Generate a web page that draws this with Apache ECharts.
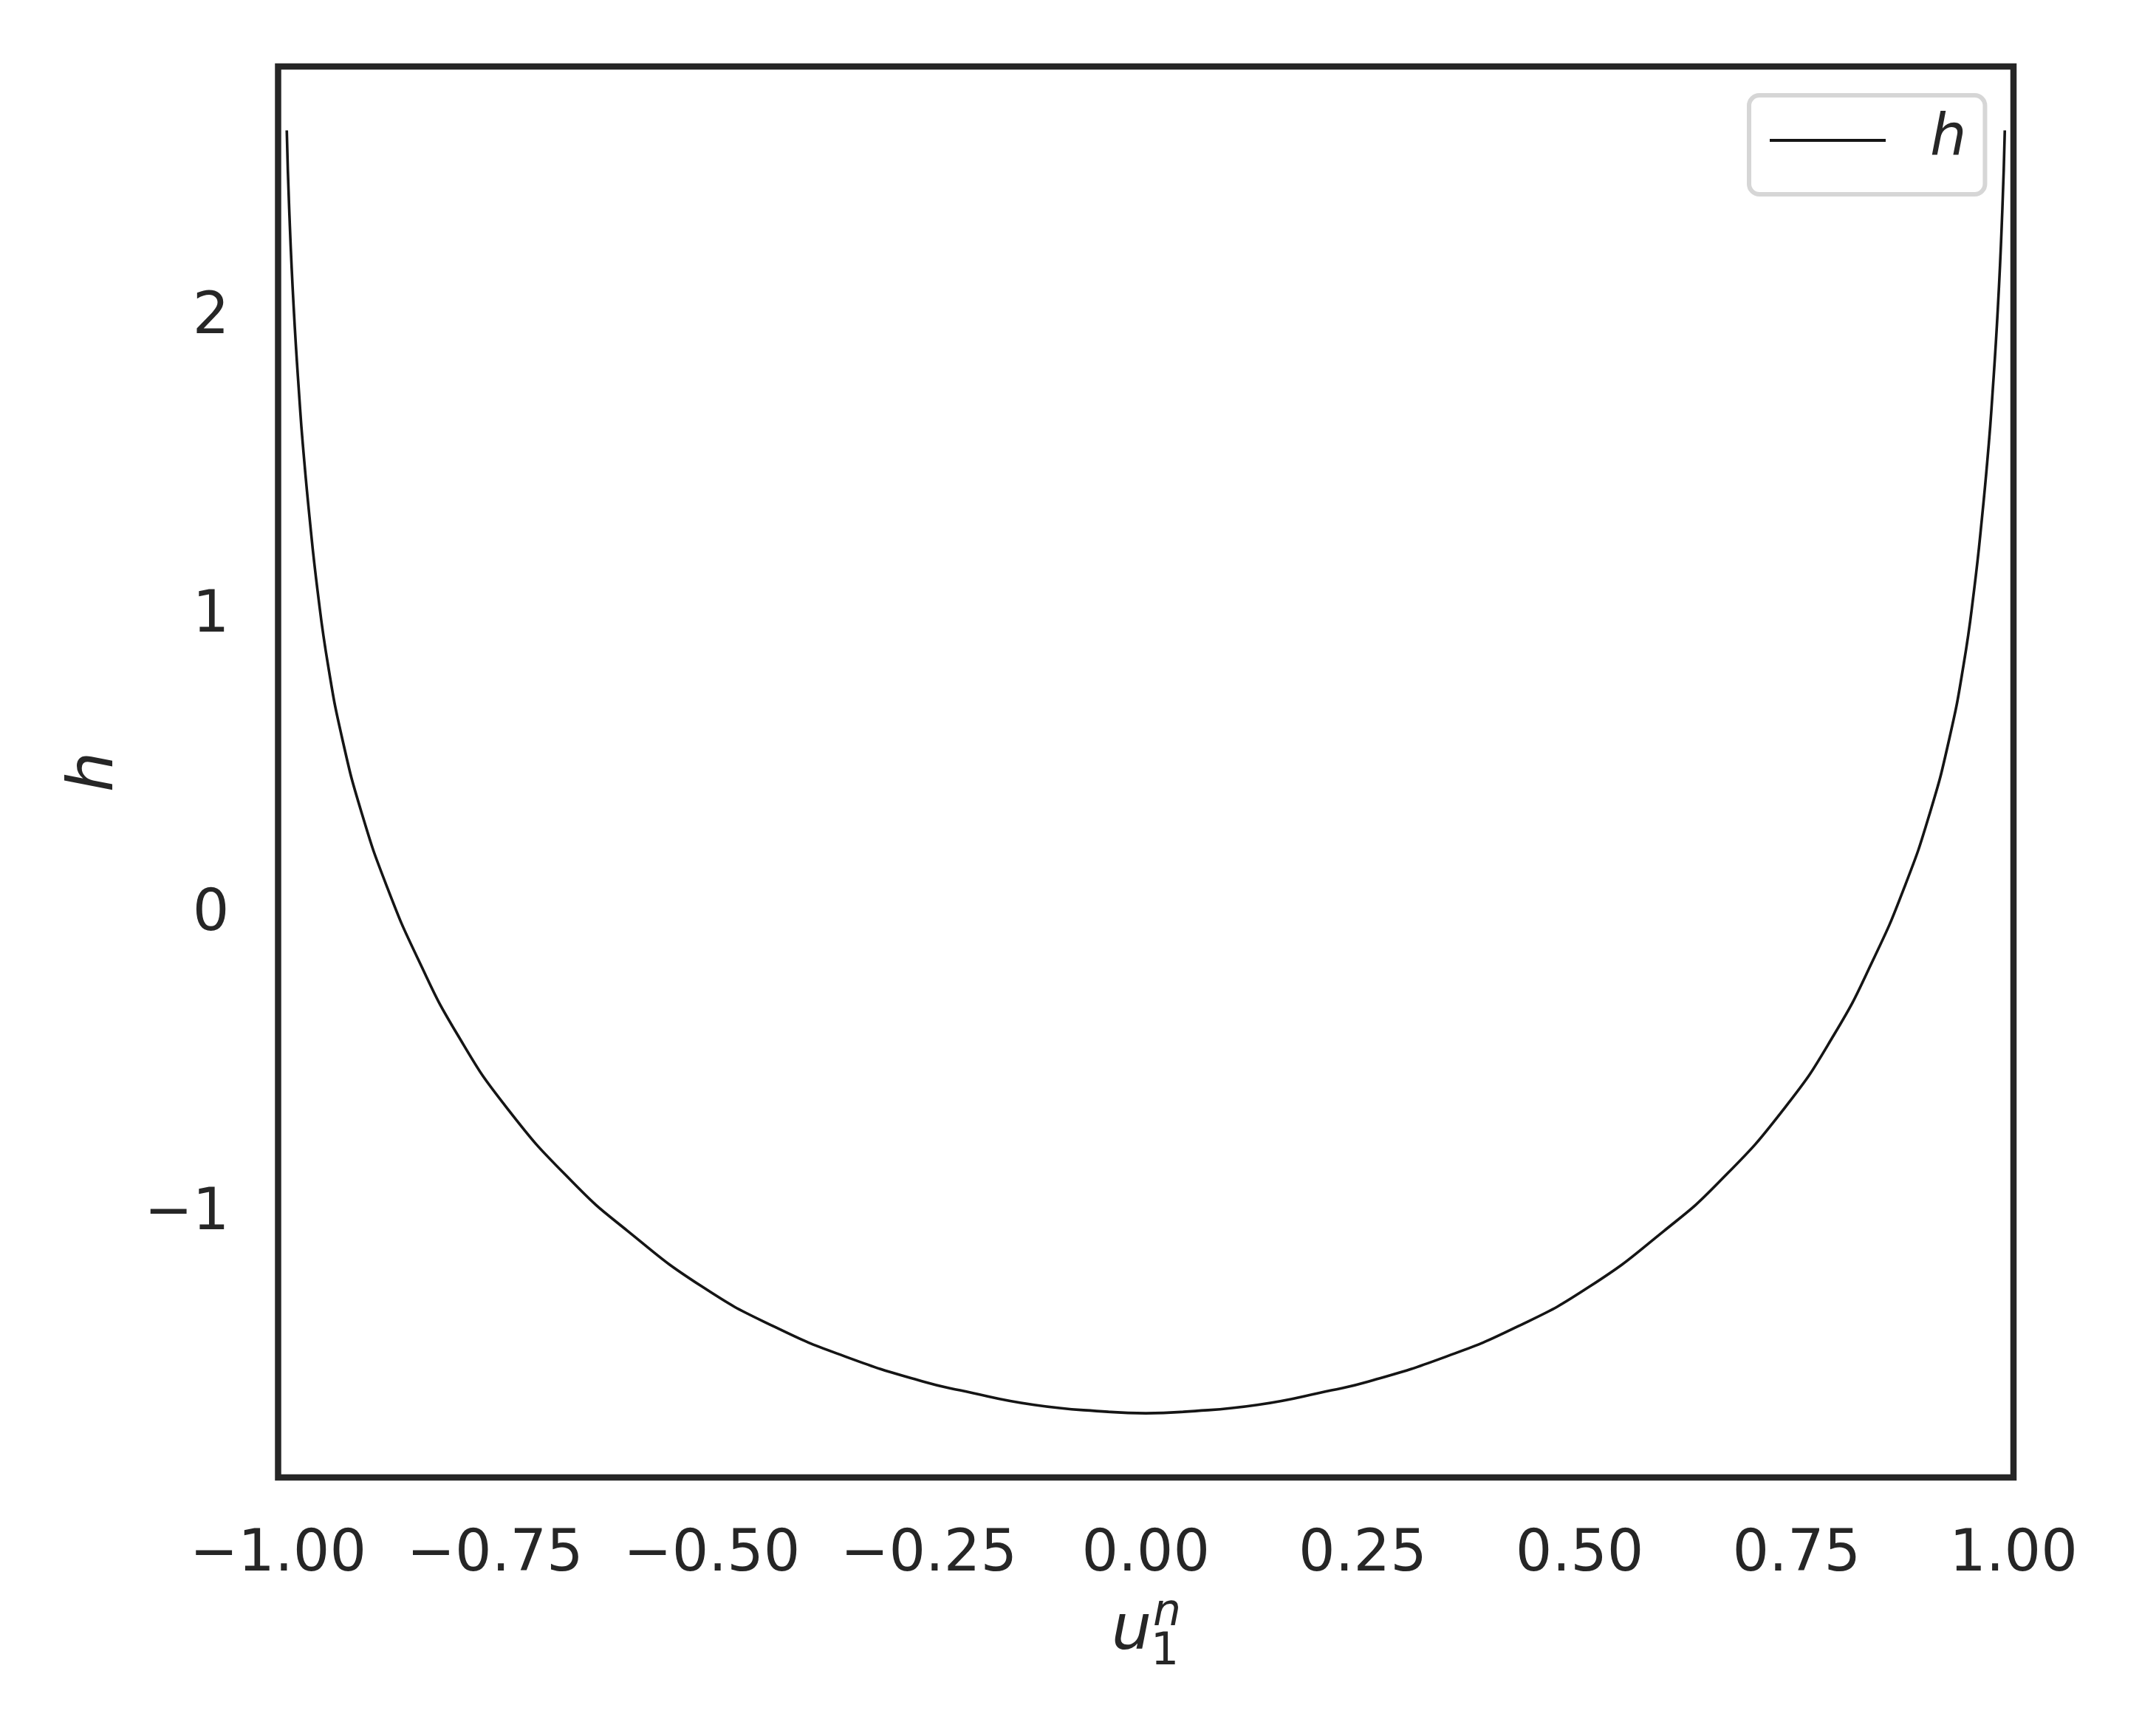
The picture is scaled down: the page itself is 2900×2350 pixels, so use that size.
<!DOCTYPE html>
<html>
<head>
<meta charset="utf-8">
<script src="https://cdn.jsdelivr.net/npm/echarts@6/dist/echarts.min.js"></script>
<style>
  html, body { margin: 0; padding: 0; background: #ffffff; }
  #chart { width: 2900px; height: 2350px; }
</style>
</head>
<body>
<div id="chart"></div>
<script>
// ---- data ----
const uValues = [
  -0.9900, -0.9872, -0.9820, -0.9748, -0.9716, -0.9638, -0.9545, -0.9425, -0.9261, -0.9038,
  -0.8747, -0.8380, -0.7934, -0.7361, -0.6605, -0.5969, -0.5118, -0.4267, -0.3416, -0.2564,
  -0.2139, -0.1287, -0.0436, 0.0, 0.0436, 0.1287, 0.2139, 0.2564, 0.3416, 0.4267,
  0.5118, 0.5969, 0.6605, 0.7361, 0.7934, 0.8380, 0.8747, 0.9038, 0.9261, 0.9425,
  0.9545, 0.9638, 0.9716, 0.9748, 0.9820, 0.9872, 0.9900
];
const hValues = [
  2.607, 2.344, 2.012, 1.681, 1.559, 1.312, 1.065, 0.817, 0.570, 0.322,
  0.075, -0.173, -0.421, -0.668, -0.916, -1.080, -1.265, -1.402, -1.505, -1.584,
  -1.613, -1.662, -1.685, -1.690, -1.685, -1.662, -1.613, -1.584, -1.505, -1.402,
  -1.265, -1.080, -0.916, -0.668, -0.421, -0.173, 0.075, 0.322, 0.570, 0.817,
  1.065, 1.312, 1.559, 1.681, 2.012, 2.344, 2.607
];
const xTicks = [-1.0, -0.75, -0.5, -0.25, 0.0, 0.25, 0.5, 0.75, 1.0];
const yTicks = [-1, 0, 1, 2];
const seriesName = 'h';

// ---- chart ----
const FONT = 'DejaVu Sans';
const INK = '#262626';
const chart = echarts.init(document.getElementById('chart'), null, { renderer: 'canvas' });

function fmtX(v) {
  const s = Math.abs(v).toFixed(2);
  return v < 0 ? '\u2212' + s : s;
}
function fmtY(v) {
  const s = v < 0 ? '\u2212' + Math.abs(v) : String(v);
  return '{t|' + s + '}';
}

const option = {
  backgroundColor: '#ffffff',
  animation: false,
  grid: {
    show: true,
    left: 376.5, right: 174, top: 90, bottom: 350,
    borderColor: INK, borderWidth: 8.5,
    backgroundColor: 'transparent',
    containLabel: false
  },
  xAxis: {
    type: 'value',
    min: -1, max: 1,
    axisLine: { show: false },
    axisTick: { show: false },
    splitLine: { show: false },
    axisLabel: {
      customValues: xTicks,
      formatter: fmtX,
      fontFamily: FONT, fontSize: 78, color: INK,
      margin: 67,
      showMinLabel: true, showMaxLabel: true
    }
  },
  yAxis: {
    type: 'value',
    min: -1.905, max: 2.821,
    axisLine: { show: false },
    axisTick: { show: false },
    splitLine: { show: false },
    axisLabel: {
      customValues: yTicks,
      formatter: fmtY,
      fontFamily: FONT, fontSize: 78, color: INK,
      margin: 66,
      rich: {
        t: { fontFamily: FONT, fontSize: 78, color: INK, padding: [18, 0, 0, 0] }
      }
    }
  },
  legend: {
    left: 2368, top: 129,
    orient: 'vertical',
    data: [{ name: seriesName, icon: 'rect' }],
    itemWidth: 157, itemHeight: 4,
    padding: [21, 25, 33, 28],
    borderColor: '#d6d6d6', borderWidth: 6, borderRadius: 14,
    backgroundColor: 'rgba(255,255,255,0.8)',
    itemStyle: { color: '#151515', borderWidth: 0 },
    textStyle: {
      fontFamily: FONT, fontSize: 78, fontStyle: 'italic', color: INK,
      lineHeight: 80,
      padding: [0, 0, 0, 55]
    }
  },
  graphic: [
    { type: 'text', x: 1532, y: 2210, z: 10,
      style: { text: 'u', font: 'italic 86px "DejaVu Sans"', fill: INK, align: 'center', verticalAlign: 'middle' } },
    { type: 'text', x: 1580, y: 2184, z: 10,
      style: { text: 'n', font: 'italic 60px "DejaVu Sans"', fill: INK, align: 'center', verticalAlign: 'middle' } },
    { type: 'text', x: 1577, y: 2237, z: 10,
      style: { text: '1', font: '60px "DejaVu Sans"', fill: INK, align: 'center', verticalAlign: 'middle' } },
    { type: 'text', x: 130, y: 1045, rotation: Math.PI / 2, z: 10,
      style: { text: 'h', font: 'italic 86px "DejaVu Sans"', fill: INK, align: 'center', verticalAlign: 'middle' } }
  ],
  series: [{
    name: seriesName,
    type: 'line',
    data: uValues.map((u, i) => [u, hValues[i]]),
    symbol: 'none',
    smooth: 0.5,
    lineStyle: { color: '#151515', width: 3.6 },
    itemStyle: { color: '#151515' },
    clip: true
  }]
};
chart.setOption(option);
</script>
</body>
</html>
